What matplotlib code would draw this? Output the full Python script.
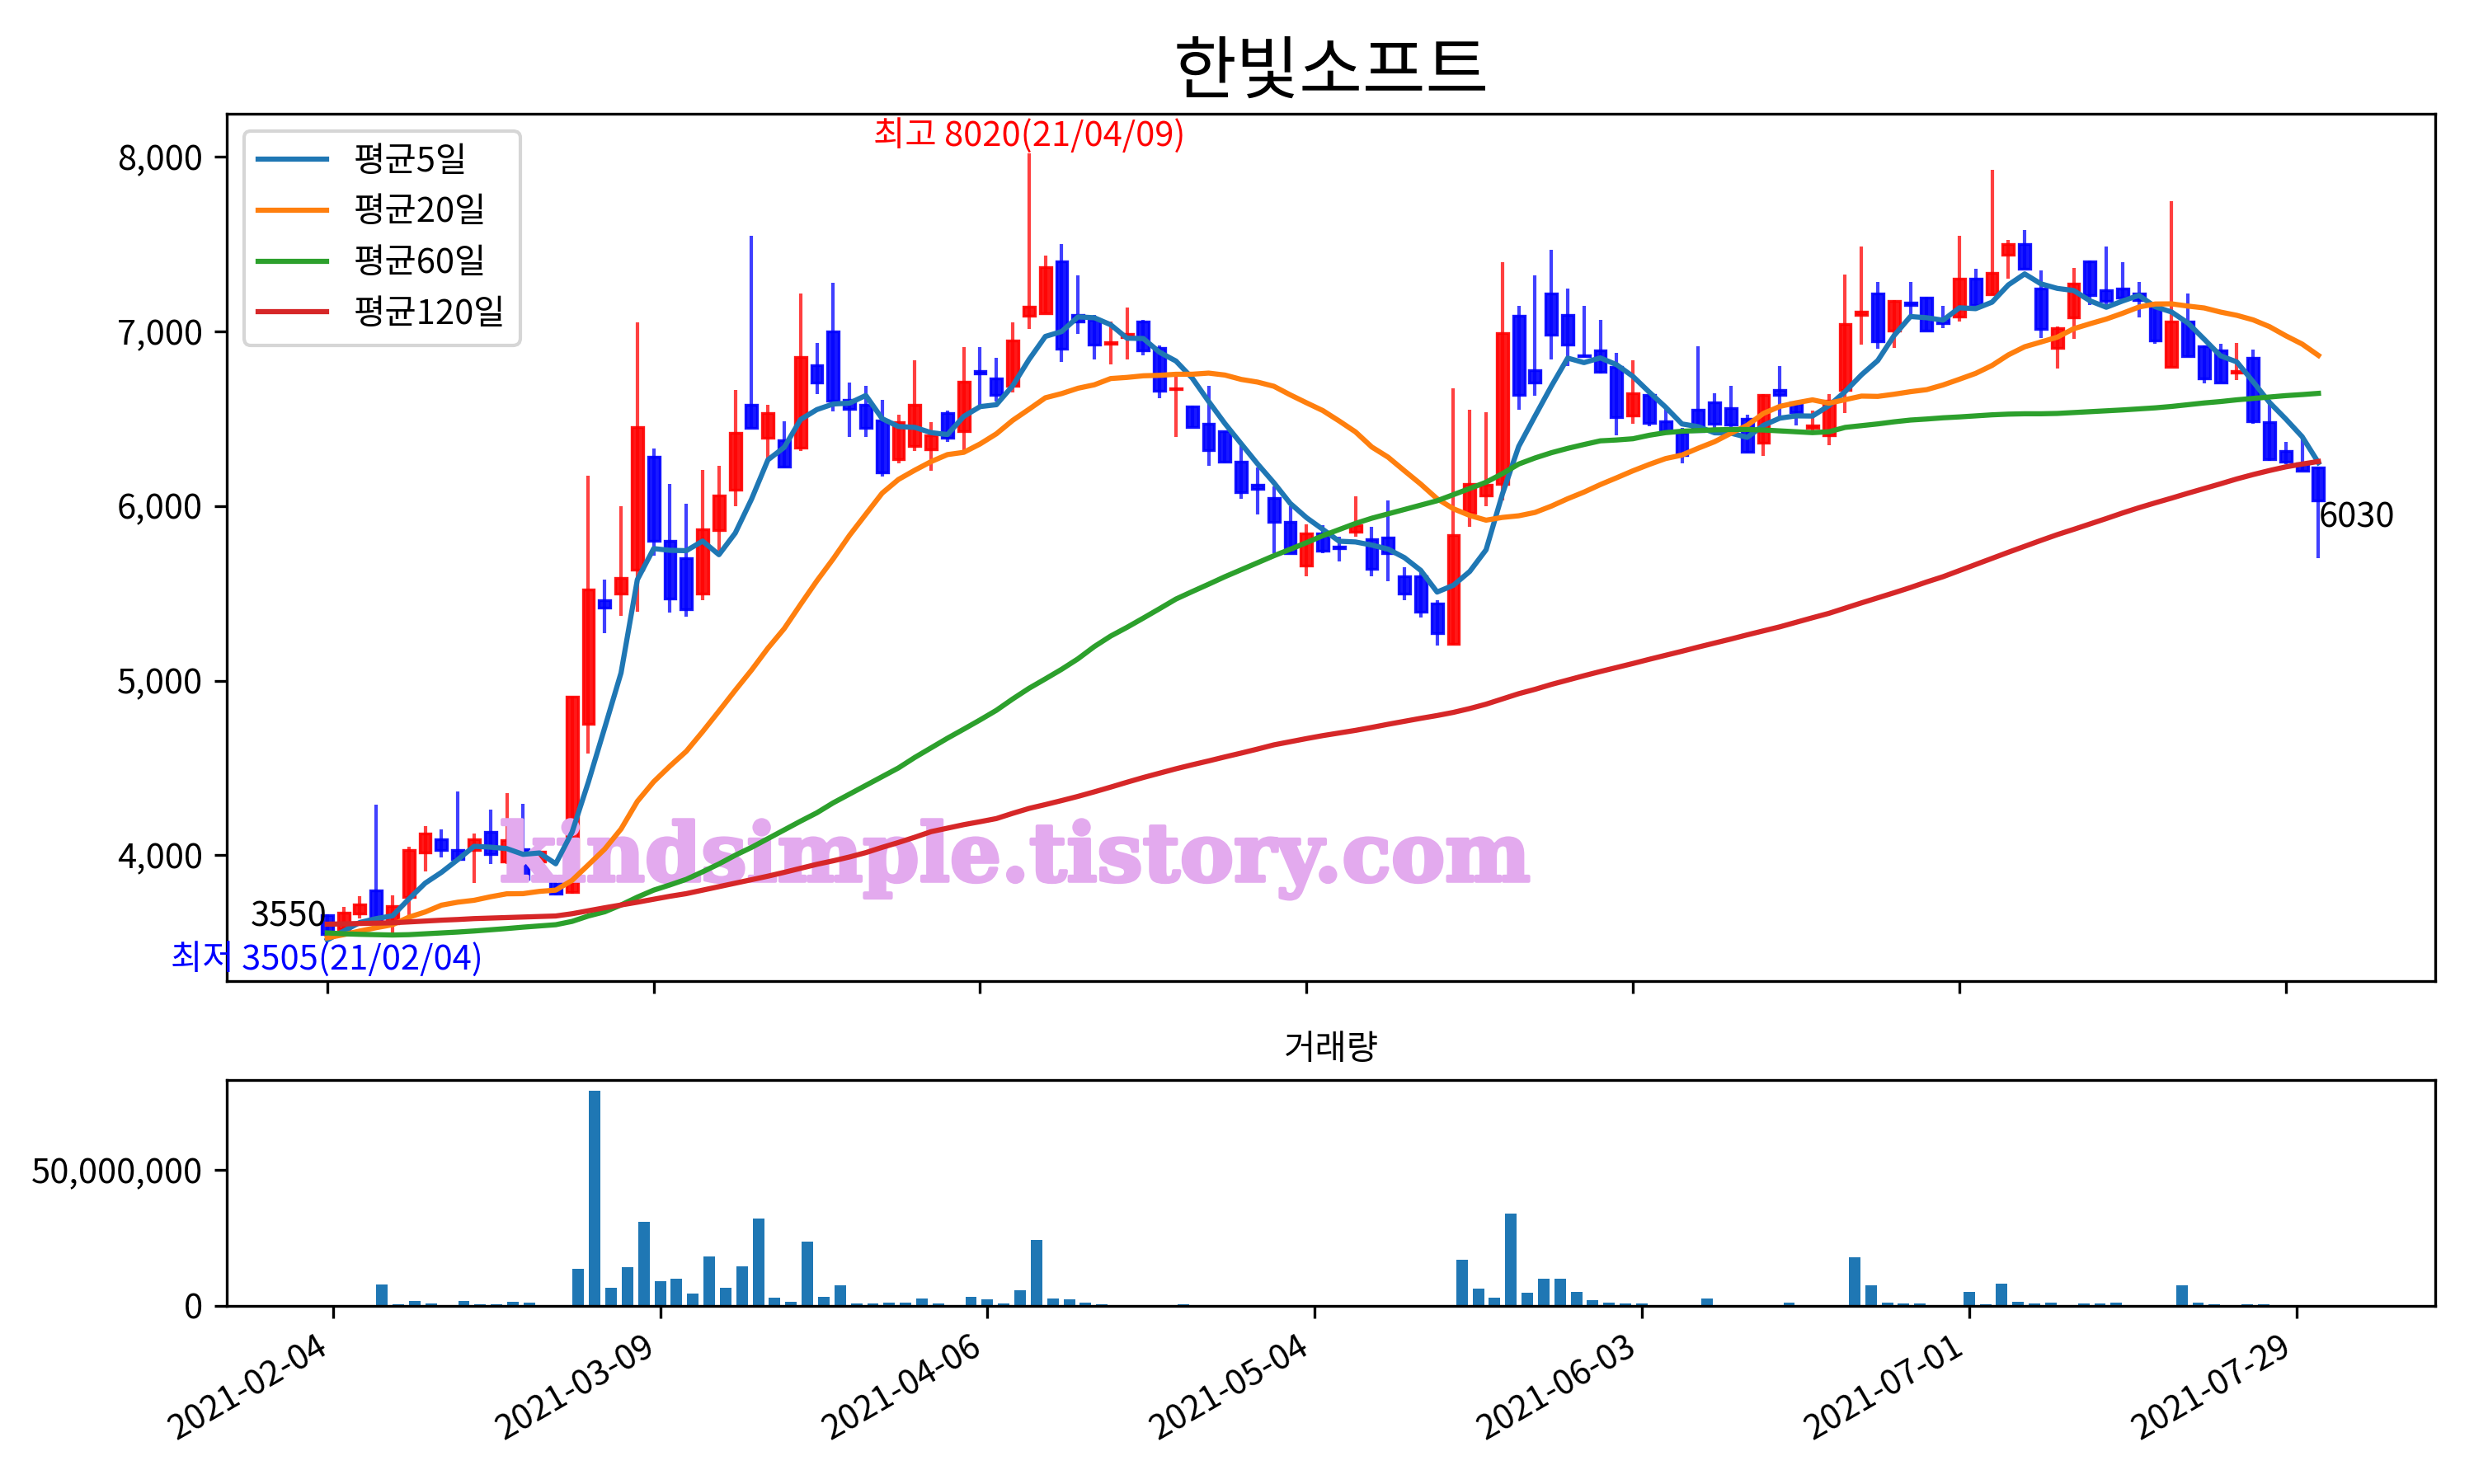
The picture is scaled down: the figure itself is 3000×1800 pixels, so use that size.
import matplotlib
matplotlib.use('Agg')
import matplotlib.pyplot as plt
import matplotlib.patheffects as pe
import numpy as np
from matplotlib.ticker import FuncFormatter

plt.rcParams['font.family'] = ['Noto Sans CJK KR', 'DejaVu Sans']
plt.rcParams['axes.unicode_minus'] = False

title = '한빛소프트'
tick_positions = [0, 20, 40, 60, 80, 100, 120]
tick_labels = ['2021-02-04', '2021-03-09', '2021-04-06', '2021-05-04',
               '2021-06-03', '2021-07-01', '2021-07-29']
high_date = '21/04/09'
low_date = '21/02/04'
watermark = 'kindsimple.tistory.com'

opens = [3655, 3575, 3665, 3800, 3610, 3760, 4015, 4090, 4030, 4030,
         4135, 3965, 4035, 3965, 3875, 3790, 4750, 5460, 5500, 5635,
         6280, 5800, 5700, 5500, 5860, 6095, 6580, 6390, 6375, 6335,
         6805, 7000, 6610, 6580, 6490, 6270, 6345, 6325, 6530, 6430,
         6775, 6730, 6690, 7090, 7105, 7400, 7095, 7065, 6930, 6965,
         7055, 6905, 6670, 6570, 6470, 6430, 6255, 6120, 6045, 5910,
         5660, 5845, 5765, 5850, 5810, 5820, 5595, 5595, 5440, 5210,
         5960, 6060, 6125, 7090, 6780, 7215, 7095, 6865, 6890, 6795,
         6520, 6635, 6485, 6420, 6550, 6595, 6560, 6500, 6360, 6665,
         6595, 6445, 6405, 6665, 7095, 7215, 7005, 7165, 7195, 7070,
         7085, 7300, 7210, 7440, 7500, 7245, 6905, 7080, 7400, 7235,
         7245, 7215, 7145, 6795, 7055, 6915, 6890, 6765, 6850, 6480,
         6315, 6245, 6220]
highs = [3660, 3706, 3765, 4290, 3770, 4050, 4165, 4150, 4365, 4125,
         4260, 4355, 4295, 4030, 3890, 4910, 6175, 5580, 6000, 7050,
         6330, 6125, 6015, 6205, 6230, 6665, 7545, 6580, 6485, 7215,
         6935, 7280, 6705, 6690, 6610, 6525, 6835, 6480, 6545, 6910,
         6910, 6850, 7050, 8020, 7435, 7500, 7320, 7095, 7055, 7135,
         7065, 6920, 6770, 6575, 6690, 6430, 6350, 6220, 6110, 6000,
         5895, 5890, 5825, 6055, 5880, 6030, 5650, 5620, 5460, 6675,
         6550, 6535, 7395, 7145, 7320, 7465, 7245, 7145, 7065, 6875,
         6835, 6640, 6555, 6445, 6915, 6645, 6690, 6525, 6640, 6800,
         6600, 6545, 6640, 7325, 7485, 7285, 7180, 7285, 7200, 7145,
         7545, 7360, 7925, 7525, 7580, 7350, 7030, 7365, 7405, 7485,
         7395, 7285, 7150, 7745, 7215, 6920, 6930, 6935, 6895, 6610,
         6365, 6395, 6225]
lows = [3505, 3541, 3640, 3605, 3540, 3640, 3905, 3985, 3975, 3840,
        3950, 3950, 3850, 3955, 3770, 3780, 4580, 5270, 5370, 5395,
        5715, 5390, 5365, 5460, 5745, 6000, 6445, 6270, 6220, 6315,
        6640, 6540, 6395, 6395, 6170, 6245, 6315, 6200, 6365, 6315,
        6570, 6600, 6650, 7015, 7105, 6825, 6985, 6840, 6810, 6840,
        6865, 6615, 6395, 6450, 6230, 6250, 6040, 5950, 5730, 5730,
        5595, 5730, 5680, 5825, 5595, 5570, 5460, 5360, 5200, 5205,
        5880, 6000, 6030, 6550, 6630, 6840, 6800, 6855, 6760, 6405,
        6470, 6455, 6430, 6245, 6430, 6445, 6445, 6305, 6285, 6515,
        6460, 6430, 6350, 6530, 6925, 6900, 6905, 7085, 7005, 7020,
        7055, 7150, 7205, 7300, 7360, 6960, 6785, 6955, 7150, 7145,
        7190, 7080, 6930, 6795, 6855, 6700, 6705, 6720, 6470, 6260,
        6240, 6200, 5700]
closes = [3550, 3670, 3720, 3615, 3710, 4030, 4125, 4030, 3980, 4090,
          4005, 4085, 3865, 4020, 3780, 4910, 5520, 5420, 5590, 6450,
          5800, 5470, 5410, 5865, 6060, 6420, 6445, 6530, 6225, 6855,
          6705, 6605, 6555, 6445, 6190, 6480, 6580, 6405, 6390, 6710,
          6760, 6635, 6950, 7140, 7370, 6900, 7055, 6925, 6940, 6985,
          6890, 6660, 6675, 6450, 6320, 6255, 6080, 6100, 5910, 5730,
          5845, 5745, 5760, 5890, 5640, 5730, 5500, 5395, 5270, 5835,
          6125, 6120, 6990, 6635, 6705, 6980, 6925, 6860, 6770, 6510,
          6645, 6475, 6430, 6290, 6430, 6470, 6465, 6310, 6635, 6635,
          6535, 6460, 6605, 7040, 7115, 6945, 7175, 7150, 7005, 7045,
          7300, 7150, 7335, 7500, 7360, 7015, 7020, 7275, 7205, 7175,
          7195, 7180, 6950, 7055, 6860, 6730, 6705, 6775, 6485, 6270,
          6255, 6200, 6030]
volumes = [0, 0, 0, 7.8e6, 0.5e6, 1.7e6, 0.8e6, 0.2e6, 1.7e6, 0.5e6,
           0.5e6, 1.4e6, 1.1e6, 0, 0, 13.6e6, 79.2e6, 6.6e6, 14.2e6, 30.9e6,
           9.0e6, 9.9e6, 4.5e6, 18.1e6, 6.6e6, 14.5e6, 32.1e6, 2.9e6, 1.4e6, 23.6e6,
           3.2e6, 7.5e6, 0.8e6, 0.8e6, 1.1e6, 1.1e6, 2.6e6, 0.8e6, 0.2e6, 3.2e6,
           2.3e6, 0.8e6, 5.7e6, 24.2e6, 2.6e6, 2.3e6, 1.1e6, 0.5e6, 0.2e6, 0.2e6,
           0, 0.2e6, 0.5e6, 0, 0.2e6, 0, 0.2e6, 0, 0, 0,
           0, 0, 0, 0, 0, 0.2e6, 0, 0, 0, 16.9e6,
           6.3e6, 2.9e6, 33.9e6, 4.8e6, 9.9e6, 9.9e6, 5.1e6, 2.0e6, 1.1e6, 0.8e6,
           0.8e6, 0.2e6, 0.2e6, 0, 2.6e6, 0.2e6, 0.2e6, 0.2e6, 0.2e6, 1.1e6,
           0, 0, 0.2e6, 17.8e6, 7.5e6, 1.1e6, 0.8e6, 0.8e6, 0.2e6, 0,
           5.1e6, 0.5e6, 8.1e6, 1.4e6, 0.8e6, 1.1e6, 0.2e6, 0.8e6, 0.8e6, 1.1e6,
           0.2e6, 0.2e6, 0.2e6, 7.5e6, 1.1e6, 0.5e6, 0.2e6, 0.5e6, 0.5e6, 0.2e6,
           0, 0, 0]

ma5_head = [3515, 3565, 3615, 3637]
ma20_head = [3527, 3545, 3566, 3585, 3602, 3645, 3675, 3714, 3731, 3742,
             3762, 3779, 3780, 3793, 3800, 3856, 3945, 4035, 4150]
ma60_line = [3555, 3550, 3547, 3545, 3543, 3545, 3550, 3555, 3560, 3566,
             3573, 3580, 3588, 3595, 3602, 3621, 3652, 3676, 3715, 3760,
             3800, 3830, 3862, 3905, 3950, 4000, 4045, 4095, 4145, 4195,
             4243, 4300, 4350, 4400, 4450, 4500, 4560, 4615, 4670, 4722,
             4775, 4830, 4895, 4956, 5010, 5065, 5125, 5195, 5255, 5305,
             5358, 5412, 5467, 5510, 5552, 5595, 5635, 5675, 5715, 5752,
             5790, 5830, 5865, 5900, 5930, 5955, 5980, 6005, 6030, 6065,
             6100, 6136, 6185, 6240, 6275, 6305, 6330, 6352, 6373, 6378,
             6385, 6405, 6420, 6428, 6432, 6436, 6438, 6438, 6435, 6430,
             6425, 6420, 6425, 6450, 6460, 6470, 6482, 6492, 6498, 6505,
             6510, 6516, 6522, 6526, 6528, 6528, 6530, 6535, 6540, 6545,
             6550, 6556, 6562, 6570, 6580, 6590, 6598, 6608, 6616, 6624,
             6632, 6638, 6645]
ma120_line = [3605, 3607, 3609, 3611, 3613, 3618, 3623, 3628, 3632, 3637,
              3640, 3643, 3646, 3649, 3652, 3665, 3682, 3699, 3715, 3731,
              3748, 3765, 3780, 3800, 3820, 3840, 3860, 3880, 3902, 3925,
              3948, 3968, 3990, 4015, 4045, 4073, 4103, 4135, 4155, 4175,
              4192, 4210, 4240, 4268, 4290, 4313, 4337, 4363, 4390, 4418,
              4445, 4470, 4495, 4518, 4540, 4563, 4585, 4608, 4632, 4650,
              4668, 4685, 4700, 4715, 4732, 4750, 4767, 4784, 4800, 4818,
              4840, 4865, 4895, 4925, 4950, 4978, 5003, 5028, 5052, 5075,
              5098, 5122, 5145, 5168, 5192, 5215, 5238, 5262, 5285, 5308,
              5334, 5360, 5385, 5415, 5445, 5474, 5503, 5533, 5565, 5595,
              5630, 5665, 5700, 5735, 5769, 5803, 5836, 5866, 5897, 5928,
              5960, 5990, 6018, 6045, 6073, 6100, 6127, 6155, 6180, 6203,
              6224, 6240, 6255]

o = np.array(opens, dtype=float)
h = np.array(highs, dtype=float)
l = np.array(lows, dtype=float)
c = np.array(closes, dtype=float)
v = np.array(volumes, dtype=float)
n = len(c)
x = np.arange(n)


def sma(vals, window, head):
    out = list(head)
    for i in range(len(head), len(vals)):
        out.append(vals[i - window + 1:i + 1].mean())
    return np.array(out)


ma5 = sma(c, 5, ma5_head)
ma20 = sma(c, 20, ma20_head)

fig = plt.figure(figsize=(10, 6), dpi=300)
ax = fig.add_axes([0.0917, 0.3389, 0.8926, 0.5844])
axv = fig.add_axes([0.0917, 0.12, 0.8926, 0.1522])

cols = np.where(c >= o, 'red', 'blue')
ax.vlines(x, l, h, colors=cols, linewidth=1.0, alpha=0.75, zorder=1)
ax.bar(x, c - o, bottom=o, width=0.7, color=cols, edgecolor=cols,
       linewidth=0.8, alpha=0.9, zorder=2)

ax.plot(x, ma5, label='평균5일', zorder=4)
ax.plot(x, ma20, label='평균20일', zorder=4)
ax.plot(x, np.array(ma60_line), label='평균60일', zorder=4)
ax.plot(x, np.array(ma120_line), label='평균120일', zorder=4)
ax.legend(loc='upper left', fontsize=10)

ax.set_xlim(-6.15, 129.15)
ax.set_xticks(tick_positions)
ax.tick_params(axis='x', labelbottom=False)
ax.set_yticks([4000, 5000, 6000, 7000, 8000])
ax.yaxis.set_major_formatter(FuncFormatter(lambda val, pos: f'{val:,.0f}'))
ax.set_title(title, fontsize=20)

imax = int(np.argmax(h))
imin = int(np.argmin(l))
ax.text(imax, h[imax], f'최고 {h[imax]:.0f}({high_date})', color='red',
        ha='center', va='bottom', fontsize=10, zorder=5)
ax.text(imin, l[imin], f'최저 {l[imin]:.0f}({low_date})', color='blue',
        ha='center', va='top', fontsize=10, zorder=5)
ax.text(0, c[0], f'{c[0]:.0f}', ha='right', va='bottom', fontsize=10, zorder=5)
ax.text(n - 1, c[-1], f'{c[-1]:.0f}', ha='left', va='top', fontsize=10, zorder=5)

wm_color = '#e3aaee'
wm = ax.text(0.357, 0.14, watermark, transform=ax.transAxes, fontsize=24,
             fontfamily='DejaVu Serif', fontweight='bold', color=wm_color,
             ha='center', va='center', zorder=3,
             path_effects=[pe.withStroke(linewidth=1.0, foreground=wm_color)])

axv.bar(x, v, width=0.7, color='C0')
axv.set_xticks(tick_positions)
axv.set_xticklabels(tick_labels, rotation=30, ha='right')
axv.set_yticks([0, 50000000])
axv.yaxis.set_major_formatter(FuncFormatter(lambda val, pos: f'{val:,.0f}'))
axv.set_title('거래량', fontsize=10)

fig.canvas.draw()
w = wm.get_window_extent().width
wm.set_fontsize(24 * 1250.0 / w)

fig.savefig('out.png', dpi=300)
